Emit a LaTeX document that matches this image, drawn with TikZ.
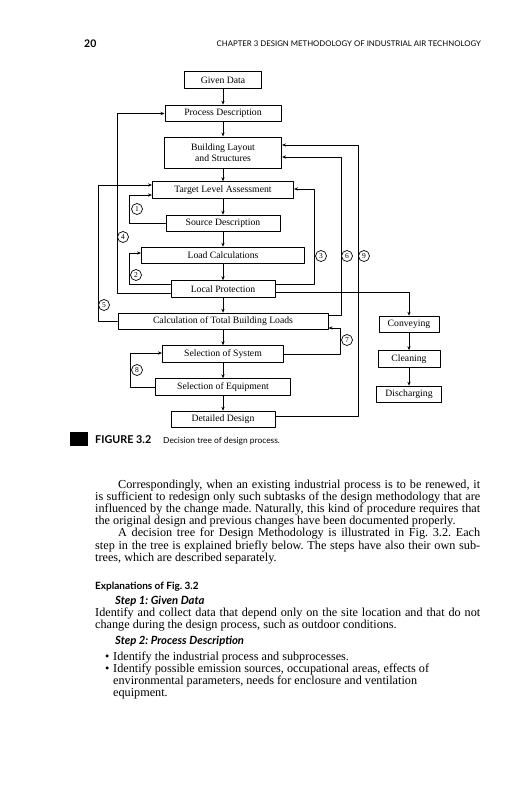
\documentclass[tikz,border=0pt]{standalone}
\usepackage{fontspec}
\setmainfont{Liberation Serif}
\newfontfamily\gillfont{Lato}
\usetikzlibrary{arrows.meta}
\frenchspacing
\tikzset{
  box/.style={draw,line width=1pt,fill=white,inner sep=0pt,minimum height=16.5pt,font=\fontsize{9.7}{10.7}\selectfont},
  conn/.style={line width=0.8pt,-{Stealth[length=4pt,width=3.2pt]}},
  tag/.style={circle,draw,line width=0.7pt,fill=white,minimum size=11pt,inner sep=0pt,font=\fontsize{7.5}{8}\selectfont},
  bodyline/.style={anchor=base west,inner sep=0pt,font=\fontsize{12.2}{12.2}\selectfont},
  headline/.style={anchor=base west,inner sep=0pt,font=\gillfont\bfseries\fontsize{10}{11}\selectfont},
  stepline/.style={headline,font=\gillfont\bfseries\itshape\fontsize{11.3}{12}\selectfont},
}

\begin{document}
\begin{tikzpicture}[x=1pt,y=-1pt,line cap=round,line join=round]
\path[use as bounding box] (0,0) rectangle (523,800);
% page header
\node[anchor=base west,inner sep=0pt,font=\gillfont\bfseries\fontsize{10.5}{12}\selectfont] (pageno) at (84,48) {20};
\node[anchor=base east,inner sep=0pt,font=\gillfont\fontsize{7.8}{8}\selectfont] (runhead) at (481,47) {CHAPTER 3 DESIGN METHODOLOGY OF INDUSTRIAL AIR TECHNOLOGY};
% main column
\node[box,minimum width=77pt] (given) at (223,80) {Given Data};
\node[box,minimum width=116pt] (process) at (223,113.5) {Process Description};
\node[box,minimum width=117pt,minimum height=31pt,align=center] (building) at (223,152.5) {Building Layout\\and Structures};
\node[box,minimum width=141pt] (target) at (223,190) {Target Level Assessment};
\node[box,minimum width=114pt] (source) at (223,223.5) {Source Description};
\node[box,minimum width=163pt] (load) at (223,255.5) {Load Calculations};
\node[box,minimum width=104pt] (local) at (223,289) {Local Protection};
\node[box,minimum width=210pt] (calc) at (223,321.5) {Calculation of Total Building Loads};
\node[box,minimum width=121pt] (selsys) at (223,354) {Selection of System};
\node[box,minimum width=135pt] (seleq) at (223,387) {Selection of Equipment};
\node[box,minimum width=104pt] (detail) at (223,419.5) {Detailed Design};
% side column
\node[box,minimum width=60pt] (convey) at (409,324.5) {Conveying};
\node[box,minimum width=62pt] (clean) at (409,359) {Cleaning};
\node[box,minimum width=65pt] (discharge) at (409,394.5) {Discharging};
\foreach \a/\b in {given/process,process/building,building/target,target/source,source/load,load/local,local/calc,calc/selsys,selsys/seleq,seleq/detail,convey/clean,clean/discharge}
  \draw[conn] (\a) -- (\b);
% loop corners
\coordinate (k1) at (129,195);
\coordinate (k2) at (129,253);
\coordinate (k3) at (314,189);
\coordinate (k4) at (117,113.5);
\coordinate (k5) at (98,185);
\coordinate (k6) at (341,157);
\coordinate (k7) at (340,328);
\coordinate (k8) at (130,353);
\coordinate (k9) at (358,145);
% feedback loops
\draw[conn] (source.west) -| (k1) -- (k1 -| target.west);
\draw[conn] ([yshift=5pt]local.west) -| (k2) -- (k2 -| load.west);
\draw[conn] ([yshift=5pt]local.east) -| (k3) -- (k3 -| target.east);
\draw[conn] ([yshift=-4pt]local.west) -| (k4) -- (k4 -| process.west);
\draw[conn] (calc.west) -| (k5) -- (k5 -| target.west);
\draw[conn] ([yshift=6.5pt]calc.east) -| (k6) -- (k6 -| building.east);
\draw[conn] (selsys.east) -| (k7) -- (k7 -| calc.east);
\draw[conn] (seleq.west) -| (k8) -- (k8 -| selsys.west);
\draw[conn] ([yshift=3pt]detail.east) -| (k9) -- (k9 -| building.east);
\draw[conn] ([yshift=-3pt]local.east) -| (convey.north);
% loop numbers
\node[tag] (t1) at (137,209) {1};
\node[tag] (t2) at (136,275) {2};
\node[tag] (t3) at (321,256) {3};
\node[tag] (t4) at (123,237) {4};
\node[tag] (t5) at (104,305) {5};
\node[tag] (t6) at (347,256) {6};
\node[tag] (t7) at (347,340) {7};
\node[tag] (t8) at (137,370) {8};
\node[tag] (t9) at (364,256) {9};
% caption
\fill (70,432) rectangle (88,446);
\node[anchor=base west,inner sep=0pt,font=\gillfont\bfseries\fontsize{10.8}{12}\selectfont] (figno) at (95,443) {FIGURE 3.2};
\node[anchor=base west,inner sep=0pt,font=\gillfont\fontsize{8.4}{9}\selectfont] (figcap) at (163,443) {Decision tree of design process.};
% body text
\node[bodyline] (p1) at (118,488) {\makebox[362pt][s]{Correspondingly, when an existing industrial process is to be renewed, it}};
\node[bodyline] (p2) at (95,500.2) {\makebox[385pt][s]{is sufficient to redesign only such subtasks of the design methodology that are}};
\node[bodyline] (p3) at (95,512.4) {\makebox[385pt][s]{influenced by the change made. Naturally, this kind of procedure requires that}};
\node[bodyline] (p4) at (95,524.6) {the original design and previous changes have been documented properly.};
\node[bodyline] (p5) at (118,536.8) {\makebox[362pt][s]{A decision tree for Design Methodology is illustrated in Fig. 3.2. Each}};
\node[bodyline] (p6) at (95,549) {\makebox[385pt][s]{step in the tree is explained briefly below. The steps have also their own sub-}};
\node[bodyline] (p7) at (95,561) {trees, which are described separately.};
\node[headline] (expl) at (95,589) {Explanations of Fig. 3.2};
\node[stepline] (step1) at (115,604) {Step 1: Given Data};
\node[bodyline] (s1a) at (95,616) {\makebox[385pt][s]{Identify and collect data that depend only on the site location and that do not}};
\node[bodyline] (s1b) at (95,628.2) {change during the design process, such as outdoor conditions.};
\node[stepline] (step2) at (115,644) {Step 2: Process Description};
\node[bodyline] (b1) at (105,660) {•};
\node[bodyline] (b1a) at (113,660) {Identify the industrial process and subprocesses.};
\node[bodyline] (b2) at (105,672.3) {•};
\node[bodyline] (b2a) at (113,672.3) {Identify possible emission sources, occupational areas, effects of};
\node[bodyline] (b2b) at (113,684.5) {environmental parameters, needs for enclosure and ventilation};
\node[bodyline] (b2c) at (113,696.7) {equipment.};
\end{tikzpicture}
\end{document}
